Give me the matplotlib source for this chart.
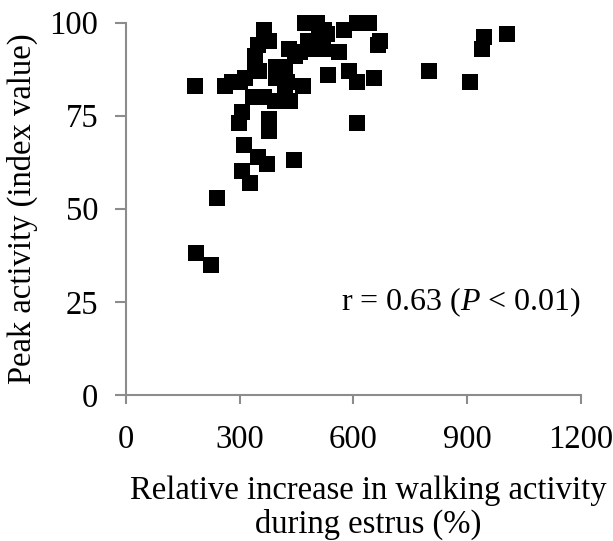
import matplotlib
matplotlib.use("Agg")
import matplotlib.pyplot as plt

# walking activity increase (%) vs peak activity index
walk_increase = [181, 185, 225, 240, 260, 280, 300, 313, 299, 307, 310, 307, 326,
                 334, 347, 365, 373, 376, 376, 392, 432, 442, 466, 413, 420, 534,
                 589, 608, 610, 655, 665, 670, 563, 608, 576, 471, 490, 505, 523,
                 365, 347, 378, 339, 340, 350, 395, 400, 425, 430, 445, 460, 480,
                 500, 510, 520, 530, 640, 798, 908, 940, 945, 1006, 420, 395]
peak_activity = [83, 38, 35, 53, 83, 84, 84, 85, 73, 76, 67, 60, 57,
                 80, 64, 80, 62, 74, 71, 79, 79, 63, 83, 86, 88, 86,
                 87, 84, 73, 85, 94, 95, 92, 100, 98, 100, 100, 100, 98,
                 98, 94, 95, 91, 88, 87, 85, 87, 84, 93, 91, 92, 95,
                 93, 96, 93, 97, 100, 87, 84, 93, 96, 97, 82, 88]

x_ticks = [0, 300, 600, 900, 1200]
y_ticks = [0, 25, 50, 75, 100]

plt.rcParams['font.family'] = 'Liberation Serif'
plt.rcParams['mathtext.fontset'] = 'custom'
plt.rcParams['mathtext.rm'] = 'Liberation Serif'
plt.rcParams['mathtext.it'] = 'Liberation Serif:italic'

fig = plt.figure(figsize=(6.13, 5.41), dpi=100)
ax = fig.add_axes([0.2055, 0.2699, 0.7423, 0.6885])

ax.scatter(walk_increase, peak_activity, marker='s', s=132, color='black',
           linewidths=0, clip_on=False, zorder=3)

ax.set_xlim(0, 1200)
ax.set_ylim(0, 100)
ax.set_xticks(x_ticks)
ax.set_yticks(y_ticks)

for side in ['top', 'right']:
    ax.spines[side].set_visible(False)
for side in ['left', 'bottom']:
    ax.spines[side].set_color('#8c8c8c')
    ax.spines[side].set_linewidth(1.5)
ax.tick_params(direction='out', width=1.5, color='#8c8c8c', labelsize=23.5)
ax.tick_params(axis='x', length=6.5, pad=15)
ax.tick_params(axis='y', length=8, pad=12)

ax.set_xlabel('Relative increase in walking activity\nduring estrus (%)',
              fontsize=23.5, linespacing=1.15)
ax.xaxis.set_label_coords(0.532, -0.215)
ax.xaxis.label.set_va('top')
ax.set_ylabel('Peak activity (index value)', fontsize=23.5, labelpad=8)

ax.text(1200, 25, r'r = 0.63 ($P$ < 0.01)', ha='right', va='center',
        fontsize=23)

fig.savefig('out.png', dpi=100)
